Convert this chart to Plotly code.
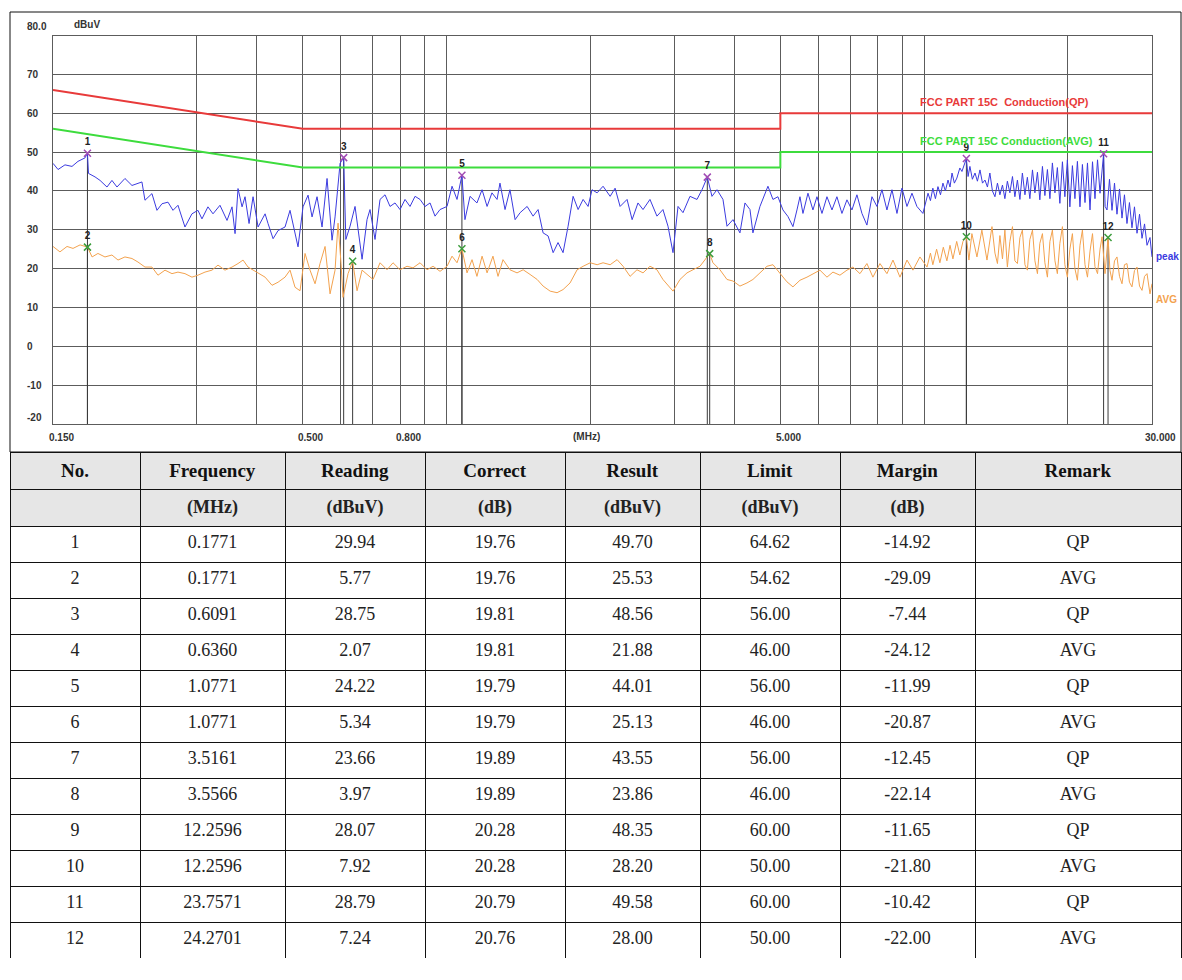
import math
import plotly.graph_objects as go

# ---------------- data ----------------
peak_freq = [
    0.150, 0.1537, 0.1589, 0.1644, 0.1692, 0.1750, 0.1771, 0.1780, 0.1837, 0.1882,
    0.1946, 0.1993, 0.2042, 0.2122, 0.2195, 0.2303, 0.2337, 0.2417, 0.2476, 0.2537,
    0.2611, 0.2675, 0.2740, 0.2834, 0.2931, 0.3017, 0.3076, 0.3166, 0.3244, 0.3355,
    0.3471, 0.3556, 0.3608, 0.3660, 0.3732, 0.3786, 0.3860, 0.3935, 0.4031, 0.4170,
    0.4230, 0.4334, 0.4440, 0.4591, 0.4703, 0.4818, 0.4888, 0.5007, 0.5130, 0.5230,
    0.5357, 0.5488, 0.5622, 0.5759, 0.5843, 0.5986, 0.6091,
    0.6155, 0.6281, 0.6434, 0.6656, 0.6817, 0.6916, 0.7085, 0.7258, 0.7435, 0.7616,
    0.7802, 0.7993, 0.8187, 0.8387, 0.8593, 0.8803, 0.9017, 0.9237, 0.9461, 0.9692,
    1.0024, 1.027, 1.052, 1.0771, 1.093, 1.120, 1.158, 1.187, 1.216, 1.245,
    1.276, 1.294, 1.326, 1.358, 1.392, 1.426, 1.475, 1.518, 1.555, 1.593,
    1.632, 1.672, 1.712, 1.754, 1.797, 1.841, 1.886, 1.932, 1.979, 2.017,
    2.067, 2.127, 2.201, 2.254, 2.309, 2.388, 2.447, 2.517, 2.579, 2.667,
    2.758, 2.839, 2.909, 2.980, 3.053, 3.127, 3.234, 3.345, 3.427, 3.5161,
    3.596, 3.684, 3.792, 3.866, 3.979, 4.115, 4.216, 4.319, 4.381, 4.532,
    4.710, 4.825,
    4.942, 5.063, 5.187, 5.313, 5.417, 5.496, 5.576, 5.712, 5.851, 5.965,
    6.111, 6.260, 6.413, 6.568, 6.729, 6.893, 7.061, 7.233, 7.410, 7.590,
    7.776, 7.965, 8.160, 8.359, 8.564, 8.773, 8.986, 9.206, 9.431, 9.659,
    9.942, 10.19, 10.31, 10.43, 10.56, 10.69, 10.82, 10.95, 11.08, 11.22,
    11.33, 11.44, 11.57, 11.71, 11.88, 12.00, 12.2596, 12.36, 12.47, 12.62,
    12.78, 12.93, 13.09, 13.25, 13.41, 13.57, 13.73, 13.90,
    14.07, 14.24, 14.41, 14.59, 14.76, 14.94, 15.12, 15.31, 15.49, 15.68,
    15.87, 16.06, 16.26, 16.45, 16.65, 16.86, 17.06, 17.27, 17.47, 17.69,
    17.90, 18.12, 18.34, 18.56, 18.79, 19.01, 19.24, 19.48, 19.71, 19.95,
    20.19, 20.44, 20.69, 20.94, 21.20, 21.45, 21.72, 21.98, 22.25, 22.52,
    22.79, 23.07, 23.35, 23.57, 23.7571, 23.93, 24.15,
    24.44, 24.74, 25.04, 25.34, 25.65, 25.96, 26.27, 26.59, 26.91, 27.24,
    27.57, 27.91, 28.25, 28.59, 28.94, 29.29, 29.71, 30.0,
]
peak_dbuv = [
    47.1, 45.5, 46.7, 46.3, 47.6, 48.5, 49.7, 44.5, 43.6, 42.7,
    41.0, 42.7, 41.0, 43.2, 41.4, 42.3, 37.6, 39.3, 35.0, 36.7,
    37.1, 35.0, 36.3, 30.7, 34.1, 35.0, 32.8, 35.9, 34.1, 36.3,
    32.4, 35.9, 29.0, 40.6, 35.9, 38.5, 31.6, 38.5, 30.7, 34.1,
    31.6, 27.7, 29.8, 30.7, 35.0, 29.0, 25.6, 35.9, 38.9, 33.3,
    38.5, 30.7, 43.2, 27.3, 33.3, 47.1, 48.56,
    27.5, 30.9, 36.0, 22.4, 32.6, 35.2, 27.5, 37.8, 39.0, 36.0,
    36.9, 35.2, 37.8, 36.0, 38.6, 37.8, 36.0, 36.9, 33.5, 35.2,
    36.0, 41.2, 37.8, 44.01, 32.6, 38.6, 36.9, 40.3, 36.0, 39.5,
    37.8, 42.0, 35.2, 40.3, 32.6, 34.4, 36.0, 33.5, 35.2, 29.2,
    28.4, 24.1, 26.7, 24.1, 30.9, 38.6, 35.2, 37.8, 36.0, 40.3,
    39.5, 41.2, 38.6, 40.7, 36.0, 37.8, 32.6, 36.9, 35.2, 37.8,
    33.5, 35.2, 30.9, 24.1, 36.0, 34.4, 38.6, 37.8, 40.3, 43.55,
    38.6, 40.3, 37.8, 30.9, 32.6, 29.2, 36.9, 35.2, 29.2, 36.0,
    41.2, 37.8,
    38.5, 35.1, 33.4, 30.8, 35.1, 38.5, 34.2, 39.4, 35.1, 38.5,
    34.2, 38.5, 35.1, 38.5, 34.2, 37.7, 35.1, 39.0, 34.2, 31.2,
    38.5, 36.0, 40.3, 35.1, 40.3, 34.2, 40.7, 36.0, 39.4, 36.0,
    34.2, 39.4, 37.5, 40.7, 38.0, 41.1, 39.0, 42.0, 40.0, 42.8,
    41.0, 44.6, 42.0, 43.3, 45.9, 45.0, 48.35, 43.7, 46.3, 43.0,
    44.6, 42.5, 45.4, 42.0, 42.8, 41.0, 44.6, 40.0,
    38.5, 42.0, 39.0, 41.5, 38.0, 42.5, 39.5, 43.7, 38.5, 42.8,
    37.8, 44.6, 39.0, 43.5, 38.0, 45.4, 39.5, 44.8, 37.7, 46.3,
    38.8, 45.5, 38.0, 47.2, 39.5, 46.0, 36.8, 47.5, 38.5, 48.0,
    35.9, 46.5, 38.0, 47.6, 35.9, 46.8, 37.0, 47.2, 35.1, 47.5,
    38.0, 48.0, 39.4, 44.0, 49.58, 36.0, 35.1,
    43.0, 35.0, 42.0, 34.0, 40.5, 33.0, 39.0, 31.6, 37.0, 30.5,
    35.9, 29.1, 34.0, 27.8, 31.5, 26.0, 28.0, 23.0,
]

avg_freq = [
    0.150, 0.1551, 0.1605, 0.1652, 0.1709, 0.1771, 0.1811, 0.1863, 0.1927, 0.1993,
    0.2052, 0.2122, 0.2195, 0.2259, 0.2337, 0.2417, 0.2488, 0.2574, 0.2662, 0.2740,
    0.2834, 0.2931, 0.3017, 0.3121, 0.3228, 0.3323, 0.3437, 0.3556, 0.3660, 0.3750,
    0.3841, 0.3935, 0.4031, 0.4170, 0.4312, 0.4440, 0.4591, 0.4703, 0.4818, 0.4935,
    0.5056, 0.5179, 0.5306, 0.5435, 0.5568, 0.5704, 0.5843, 0.5928, 0.6014, 0.6072,
    0.6221, 0.636, 0.6497, 0.6656,
    0.7017, 0.7258, 0.7507, 0.7727, 0.7993, 0.8266, 0.8509, 0.8803, 0.9104, 0.9372,
    0.9692, 1.0024, 1.027, 1.052, 1.0771, 1.104, 1.131, 1.158, 1.187, 1.216,
    1.251, 1.282, 1.313, 1.358, 1.405, 1.447, 1.496, 1.548, 1.593, 1.648,
    1.704, 1.754, 1.814, 1.877, 1.932, 2.0, 2.067, 2.127, 2.201, 2.276,
    2.343, 2.423, 2.505, 2.579, 2.667, 2.758, 2.839, 2.937, 2.980, 3.082,
    3.188, 3.281, 3.394, 3.5566, 3.613, 3.737, 3.866, 3.979, 4.115, 4.256,
    4.381, 4.532, 4.688, 4.825,
    4.991, 5.161, 5.313, 5.496, 5.685, 5.851, 6.052, 6.260, 6.443, 6.664,
    6.893, 7.095, 7.339, 7.590, 7.813, 8.082, 8.359, 8.606, 8.901, 9.206,
    9.475, 9.800, 10.14, 10.31, 10.43, 10.62, 10.79, 10.97, 11.16, 11.33,
    11.49, 11.70, 11.88, 12.06, 12.2596, 12.41, 12.59, 12.90, 13.21, 13.54,
    13.87,
    14.07, 14.24, 14.41, 14.59, 14.76, 14.94, 15.12, 15.31, 15.49, 15.68,
    15.87, 16.06, 16.26, 16.45, 16.65, 16.86, 17.06, 17.27, 17.47, 17.69,
    17.90, 18.12, 18.34, 18.56, 18.79, 19.01, 19.24, 19.48, 19.71, 19.95,
    20.19, 20.44, 20.69, 20.94, 21.20, 21.45, 21.72, 21.98, 22.25, 22.52,
    22.79, 23.07, 23.35, 23.58, 23.92, 24.2701, 24.50, 24.74, 25.04, 25.34,
    25.65, 25.96, 26.27, 26.59, 26.91, 27.24, 27.57, 27.91, 28.25, 28.59,
    28.94, 29.29, 29.71, 30.0,
]
avg_dbuv = [
    25.7, 24.3, 25.7, 25.2, 26.1, 25.53, 23.0, 23.9, 23.0, 23.5,
    22.2, 23.0, 22.6, 21.7, 20.4, 20.4, 18.3, 19.6, 18.7, 19.1,
    18.7, 17.8, 18.3, 19.1, 19.6, 20.9, 19.6, 20.4, 21.3, 22.2,
    20.4, 19.6, 18.7, 17.8, 15.7, 16.5, 17.8, 19.6, 15.2, 14.3,
    23.9, 19.6, 16.1, 21.3, 25.7, 13.5, 19.6, 31.7, 21.3, 12.6,
    18.7, 21.88, 14.3, 19.6,
    17.2, 21.5, 19.7, 21.5, 19.7, 20.6, 20.2, 21.5, 19.7, 20.6,
    19.3, 20.6, 23.2, 21.5, 25.13, 18.9, 22.3, 18.0, 23.2, 18.9,
    23.2, 18.0, 22.3, 19.7, 18.9, 19.7, 18.5, 17.2, 15.5, 14.2,
    13.8, 14.6, 16.3, 19.7, 20.6, 21.5, 21.0, 21.5, 21.0, 22.3,
    20.6, 18.0, 19.7, 18.9, 20.6, 19.7, 17.2, 15.0, 14.2, 17.2,
    18.9, 19.7, 20.6, 23.86, 21.5, 19.7, 17.2, 16.8, 15.5, 16.3,
    17.2, 18.9, 20.6, 21.0,
    18.7, 16.6, 15.3, 17.0, 17.8, 18.7, 19.6, 17.8, 19.1, 18.3,
    19.6, 20.4, 18.7, 21.3, 17.8, 21.3, 18.7, 22.2, 17.8, 22.2,
    19.6, 23.0, 20.4, 24.0, 21.0, 25.0, 21.5, 25.5, 22.0, 26.0,
    22.5, 27.0, 23.5, 27.0, 28.2, 22.2, 29.0, 23.0, 29.9, 22.2,
    30.8,
    24.0, 21.3, 28.5, 22.5, 29.9, 20.4, 27.0, 30.8, 22.0, 21.3,
    28.0, 29.9, 21.0, 19.6, 27.5, 29.9, 22.0, 18.7, 26.5, 29.0,
    21.5, 17.8, 27.0, 29.9, 22.0, 18.7, 26.5, 30.8, 21.0, 17.8,
    25.0, 29.0, 20.0, 17.0, 26.0, 29.9, 21.0, 17.8, 24.5, 29.0,
    20.5, 18.7, 25.0, 28.2, 18.7, 28.0, 19.5, 17.0, 22.0, 23.0,
    18.0, 16.1, 21.0, 21.3, 16.5, 15.3, 19.5, 20.4, 15.5, 14.4,
    18.0, 18.7, 13.5, 16.1,
]

qp_limit_freq = [0.15, 0.5, 5.0, 5.0, 30.0]
qp_limit_dbuv = [66.0, 56.0, 56.0, 60.0, 60.0]
avg_limit_freq = [0.15, 0.5, 5.0, 5.0, 30.0]
avg_limit_dbuv = [56.0, 46.0, 46.0, 50.0, 50.0]

grid_freq = [0.3, 0.4, 0.5, 0.6, 0.7, 0.8, 0.9, 1, 2, 3, 4, 5, 6, 7, 8, 9, 10, 20]
grid_dbuv = [70, 60, 50, 40, 30, 20, 10, 0, -10]
x_label_freq = [0.15, 0.5, 0.8, 5.0, 30.0]
x_label_text = ["0.150", "0.500", "0.800", "5.000", "30.000"]
y_label_vals = [80, 70, 60, 50, 40, 30, 20, 10, 0, -10, -20]
y_label_text = ["80.0", "70", "60", "50", "40", "30", "20", "10", "0", "-10", "-20"]

mk_no = [1, 2, 3, 4, 5, 6, 7, 8, 9, 10, 11, 12]
mk_freq = [0.1771, 0.1771, 0.6091, 0.6360, 1.0771, 1.0771, 3.5161, 3.5566,
           12.2596, 12.2596, 23.7571, 24.2701]
mk_reading = [29.94, 5.77, 28.75, 2.07, 24.22, 5.34, 23.66, 3.97, 28.07, 7.92, 28.79, 7.24]
mk_correct = [19.76, 19.76, 19.81, 19.81, 19.79, 19.79, 19.89, 19.89, 20.28, 20.28, 20.79, 20.76]
mk_result = [49.70, 25.53, 48.56, 21.88, 44.01, 25.13, 43.55, 23.86, 48.35, 28.20, 49.58, 28.00]
mk_limit = [64.62, 54.62, 56.00, 46.00, 56.00, 46.00, 56.00, 46.00, 60.00, 50.00, 60.00, 50.00]
mk_margin = [-14.92, -29.09, -7.44, -24.12, -11.99, -20.87, -12.45, -22.14, -11.65, -21.80, -10.42, -22.00]
mk_remark = ["QP", "AVG", "QP", "AVG", "QP", "AVG", "QP", "AVG", "QP", "AVG", "QP", "AVG"]

# ---------------- layout constants ----------------
W, H = 1182, 980
def px_x(p):
    return p / W
def px_y(p):
    return 1 - p / H

PLOT_L, PLOT_R, PLOT_T, PLOT_B = 53, 1152, 35.5, 424
GRID = "#5c5c5c"
LBL_FONT = dict(family="Liberation Sans", size=10, color="#333333")

fig = go.Figure()

# marker drop lines
drop_x, drop_y = [], []
for f, v in zip(mk_freq, mk_result):
    drop_x += [f, f, None]
    drop_y += [v, -20, None]
fig.add_trace(go.Scatter(x=drop_x, y=drop_y, mode="lines",
                         line=dict(color="#3a3a3a", width=1), hoverinfo="skip"))

fig.add_trace(go.Scatter(x=peak_freq, y=peak_dbuv, mode="lines", name="peak",
                         line=dict(color="#3b3bdf", width=1)))
fig.add_trace(go.Scatter(x=avg_freq, y=avg_dbuv, mode="lines", name="AVG",
                         line=dict(color="#f3a24e", width=1)))
fig.add_trace(go.Scatter(x=qp_limit_freq, y=qp_limit_dbuv, mode="lines",
                         line=dict(color="#e83a3a", width=2)))
fig.add_trace(go.Scatter(x=avg_limit_freq, y=avg_limit_dbuv, mode="lines",
                         line=dict(color="#3ddc3d", width=2)))

qp_idx = [i for i, r in enumerate(mk_remark) if r == "QP"]
av_idx = [i for i, r in enumerate(mk_remark) if r == "AVG"]
for idx, col in ((qp_idx, "#a24cb4"), (av_idx, "#3c9c3c")):
    fig.add_trace(go.Scatter(
        x=[mk_freq[i] for i in idx], y=[mk_result[i] for i in idx],
        mode="markers+text",
        text=["<b>%d</b>" % mk_no[i] for i in idx],
        textposition="top center",
        textfont=dict(family="Liberation Sans", size=10, color="#222222"),
        marker=dict(symbol="x-thin", size=7, line=dict(color=col, width=1.5), color=col),
        hoverinfo="skip"))

annotations = []
for f, t in zip(x_label_freq, x_label_text):
    annotations.append(dict(x=math.log10(f), xref="x", y=px_y(437), yref="paper",
                            text="<b>%s</b>" % t, showarrow=False, xshift=8,
                            font=LBL_FONT))
annotations.append(dict(x=math.log10(1.96), xref="x", y=px_y(436), yref="paper",
                        text="<b>(MHz)</b>", showarrow=False, font=LBL_FONT))
for v, t in zip(y_label_vals, y_label_text):
    shift = 0
    if v == 80:
        shift = 9
    elif v == -20:
        shift = 7
    annotations.append(dict(x=px_x(25), xref="paper", xanchor="left", y=v, yref="y",
                            yshift=shift, text="<b>%s</b>" % t, showarrow=False,
                            font=LBL_FONT))
annotations.append(dict(x=px_x(72), xref="paper", xanchor="left", y=y_label_vals[0],
                        yref="y", yshift=11, text="<b>dBuV</b>", showarrow=False,
                        font=LBL_FONT))
annotations.append(dict(x=px_x(918), xref="paper", xanchor="left", y=qp_limit_dbuv[-1],
                        yref="y", yshift=11, text="<b>FCC PART 15C  Conduction(QP)</b>",
                        showarrow=False,
                        font=dict(family="Liberation Sans", size=11, color="#e83a3a")))
annotations.append(dict(x=px_x(918), xref="paper", xanchor="left", y=avg_limit_dbuv[-1],
                        yref="y", yshift=11, text="<b>FCC PART 15C Conduction(AVG)</b>",
                        showarrow=False,
                        font=dict(family="Liberation Sans", size=11, color="#3ddc3d")))
annotations.append(dict(x=px_x(1154), xref="paper", xanchor="left", y=peak_dbuv[-1],
                        yref="y", text="<b>peak</b>", showarrow=False,
                        font=dict(family="Liberation Sans", size=10, color="#3b3bdf")))
annotations.append(dict(x=px_x(1154), xref="paper", xanchor="left", y=avg_dbuv[-1] - 4,
                        yref="y", text="<b>AVG</b>", showarrow=False,
                        font=dict(family="Liberation Sans", size=10, color="#f3a24e")))

shapes = [dict(type="rect", xref="paper", yref="paper",
               x0=px_x(10), x1=px_x(1181), y0=px_y(452), y1=px_y(12),
               line=dict(color="#111111", width=1), fillcolor="rgba(0,0,0,0)", layer="below")]

# ---------------- table ----------------
hdr = ["No.", "Frequency", "Reading", "Correct", "Result", "Limit", "Margin", "Remark"]
units = ["", "(MHz)", "(dBuV)", "(dB)", "(dBuV)", "(dBuV)", "(dB)", ""]
cols = [
    [str(n) for n in mk_no],
    ["%.4f" % v for v in mk_freq],
    ["%.2f" % v for v in mk_reading],
    ["%.2f" % v for v in mk_correct],
    ["%.2f" % v for v in mk_result],
    ["%.2f" % v for v in mk_limit],
    ["%.2f" % v for v in mk_margin],
    mk_remark,
]
cell_vals = [["<b>%s</b>" % u] + c for u, c in zip(units, cols)]
GRAY = "#e6e6e6"
fill = [[GRAY] + ["white"] * len(mk_no) for _ in hdr]

fig.add_trace(go.Table(
    domain=dict(x=[px_x(10), px_x(1181)], y=[px_y(958), px_y(452)]),
    columnwidth=[130, 145, 140, 140, 135, 140, 135, 206],
    header=dict(values=["<b>%s</b>" % h for h in hdr], fill_color=GRAY,
                line=dict(color="#111111", width=1), height=36, align="center",
                font=dict(family="Liberation Serif", size=19, color="#111111")),
    cells=dict(values=cell_vals, fill_color=fill, line=dict(color="#111111", width=1),
               height=36, align="center",
               font=dict(family="Liberation Serif", size=18, color="#222222")),
))

fig.update_layout(
    width=W, height=H, margin=dict(l=0, r=0, t=0, b=0),
    paper_bgcolor="white", plot_bgcolor="white", showlegend=False,
    annotations=annotations, shapes=shapes,
    xaxis=dict(type="log", range=[math.log10(0.15), math.log10(30)],
               domain=[px_x(PLOT_L), px_x(PLOT_R)], tickvals=grid_freq,
               showticklabels=False, ticks="", showgrid=True, gridcolor=GRID, gridwidth=1,
               showline=True, mirror=True, linecolor=GRID, linewidth=1, zeroline=False),
    yaxis=dict(range=[-20, 80], domain=[px_y(PLOT_B), px_y(PLOT_T)], tickvals=grid_dbuv,
               showticklabels=False, ticks="", showgrid=True, gridcolor=GRID, gridwidth=1,
               showline=True, mirror=True, linecolor=GRID, linewidth=1, zeroline=False),
)

fig.write_html("out.html", config={"displayModeBar": False},
               post_script="document.body.style.margin='0';")
